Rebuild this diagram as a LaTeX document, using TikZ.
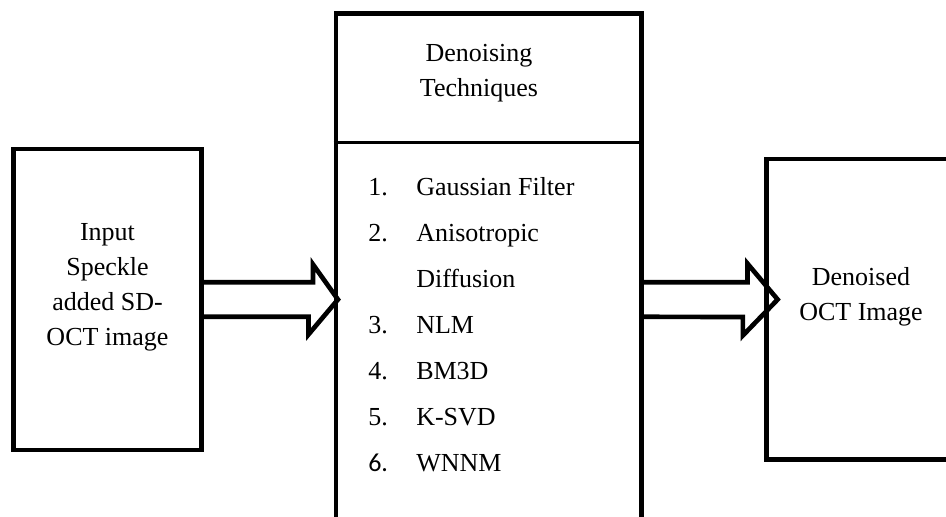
\documentclass[tikz,border=0pt]{standalone}
\usepackage{fontspec}
\setmainfont{Liberation Serif}
\newfontfamily\calibri{Carlito}
\usetikzlibrary{calc, positioning}

\begin{document}
\begin{tikzpicture}[x=0.75pt, y=-0.75pt,
    box/.style={rectangle, draw, line width=3.5pt, minimum width=#1},
    txt/.style={align=center, font=\fontsize{19.5pt}{26.25pt}\selectfont},
    arrow/.style={line width=3.5pt, miter limit=20}]

    \useasboundingbox (0,0) rectangle (946,517);

    % boxes
    \node[box=141.3pt, minimum height=225.75pt] (inbox) at (107.5,299.5) {};
    \node[box=229.3pt, minimum height=410pt] (tech) at (488.85,286.65) {};
    \node[box=167.5pt, minimum height=225.5pt] (outbox) at (878.35,309.35) {};
    \draw[line width=2.5pt] ($(tech.north west)+(0,131.7)$) -- ($(tech.north east)+(0,131.7)$);

    % texts
    \node[txt] (intext) at (107.5,286.8) {Input\\Speckle\\added SD-\\OCT image};
    \node[txt] (techtitle) at (479,73.4) {Denoising\\Techniques};
    \node[txt] (outtext) at (861,296.4) {Denoised\\OCT Image};
    \node[align=left, inner sep=0pt, anchor=north west,
          font=\fontsize{19.5pt}{34.5pt}\selectfont] (techlist) at (368,177.2)
        {\makebox[36pt][l]{1.}Gaussian Filter\\
         \makebox[36pt][l]{2.}Anisotropic\\
         \makebox[36pt][l]{}Diffusion\\
         \makebox[36pt][l]{3.}NLM\\
         \makebox[36pt][l]{4.}BM3D\\
         \makebox[36pt][l]{5.}K-SVD\\
         \makebox[36pt][l]{\calibri 6.}WNNM};

    % block arrows
    \draw[arrow] ($(inbox.east)+(0,-17.3)$) -- ++(109,0) -- ++(0,-17.7)
        -- ($(tech.west |- inbox.east)+(4.3,0)$) -- ++(-29.5,35) -- ++(0,-17.7)
        -- ($(inbox.east)+(0,17.3)$);
    \draw[arrow] ($(tech.east |- inbox.east)+(0,-17.3)$) -- ++(103.5,0) -- ++(0,-18.5)
        -- ($(outbox.west |- inbox.east)+(13.3,0)$) -- ++(-34.8,36) -- ++(0,-18.5)
        -- ($(tech.east |- inbox.east)+(0,17.3)$);
\end{tikzpicture}
\end{document}
